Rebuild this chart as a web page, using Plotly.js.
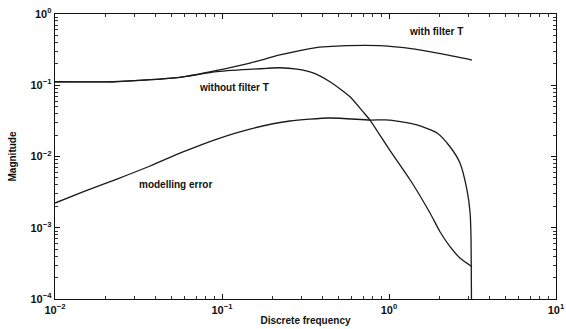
<!DOCTYPE html>
<html>
<head>
<meta charset="utf-8">
<script src="https://cdn.plot.ly/plotly-3.0.1.min.js"></script>
<style>html,body{margin:0;padding:0;background:#fff;}#chart{width:566px;height:329px;}</style>
</head>
<body>
<div id="chart"></div>
<script>
// Discrete frequency (rad/sample) and magnitudes
const freqWith = [0.01, 0.0222, 0.0538, 0.0933, 0.147, 0.222, 0.351, 0.561, 0.883, 1.39, 2.22, 3.14];
const magWith  = [0.112, 0.112, 0.128, 0.162, 0.205, 0.266, 0.333, 0.359, 0.359, 0.323, 0.266, 0.226];

const freqWithout = [0.01, 0.0222, 0.0538, 0.0933, 0.186, 0.222, 0.281, 0.351, 0.443, 0.584, 0.698, 0.769, 1.01, 1.34, 1.76, 2.02, 2.32, 2.66, 3.14];
const magWithout  = [0.112, 0.112, 0.128, 0.155, 0.173, 0.176, 0.168, 0.149, 0.112, 0.069, 0.0426, 0.0325, 0.0123, 0.00468, 0.00161, 0.00088, 0.000542, 0.000376, 0.000284];

const freqErr = [0.01, 0.0147, 0.0235, 0.0371, 0.0584, 0.0933, 0.147, 0.255, 0.443, 0.769, 1.01, 1.47, 1.94, 2.32, 2.66, 2.93, 3.06, 3.10, 3.14];
const magErr  = [0.00222, 0.00318, 0.00483, 0.00736, 0.0116, 0.0176, 0.0243, 0.0315, 0.0347, 0.0325, 0.0325, 0.0277, 0.0214, 0.0137, 0.0081, 0.00339, 0.00161, 0.00067, 0.00001];

const xTickVals = [0.01, 0.1, 1, 10];
const xTickText = ['10<sup>−2</sup>', '10<sup>−1</sup>', '10<sup>0</sup>', '10<sup>1</sup>'];
const yTickVals = [0.0001, 0.001, 0.01, 0.1, 1];
const yTickText = ['10<sup>−4</sup>', '10<sup>−3</sup>', '10<sup>−2</sup>', '10<sup>−1</sup>', '10<sup>0</sup>'];

const labelText = ['with filter T', 'without filter T', 'modelling error'];
const labelX = [1.28, 0.071, 0.031];
const labelY = [0.56, 0.094, 0.004];

const lineStyle = {color: '#1a1a1a', width: 1.3, shape: 'spline', smoothing: 0.6};
const traces = [
  {x: freqWith, y: magWith},
  {x: freqWithout, y: magWithout},
  {x: freqErr, y: magErr}
].map(t => Object.assign(t, {mode: 'lines', line: lineStyle, hoverinfo: 'skip'}));

const axisCommon = {
  type: 'log',
  showgrid: false,
  zeroline: false,
  showline: true,
  linecolor: '#111',
  linewidth: 1.3,
  mirror: 'allticks',
  ticks: 'inside',
  ticklen: 5,
  tickwidth: 1,
  tickcolor: '#111',
  tickmode: 'array',
  tickfont: {family: 'Liberation Sans, Arial', size: 11, color: '#111', weight: 'bold'},
  minor: {ticks: 'inside', ticklen: 3, tickwidth: 1, tickcolor: '#333', dtick: 'D1', showgrid: false}
};

const layout = {
  width: 566, height: 329,
  margin: {l: 55, r: 10, t: 14, b: 30},
  paper_bgcolor: '#fff', plot_bgcolor: '#fff',
  showlegend: false,
  font: {family: 'Liberation Sans, Arial', color: '#111'},
  xaxis: Object.assign({}, axisCommon, {
    range: [-2, 1],
    tickvals: xTickVals, ticktext: xTickText,
    title: {text: 'Discrete frequency', font: {size: 10, weight: 'bold'}, standoff: 2}
  }),
  yaxis: Object.assign({}, axisCommon, {
    range: [-4, 0],
    tickvals: yTickVals, ticktext: yTickText,
    title: {text: 'Magnitude', font: {size: 10, weight: 'bold'}, standoff: 12}
  }),
  annotations: labelText.map((t, i) => ({
    x: Math.log10(labelX[i]), y: Math.log10(labelY[i]), xref: 'x', yref: 'y',
    text: t, showarrow: false, xanchor: 'left', yanchor: 'middle',
    font: {size: 10, weight: 'bold', color: '#111'}
  }))
};

Plotly.newPlot('chart', traces, layout, {staticPlot: true, displayModeBar: false});
</script>
</body>
</html>
